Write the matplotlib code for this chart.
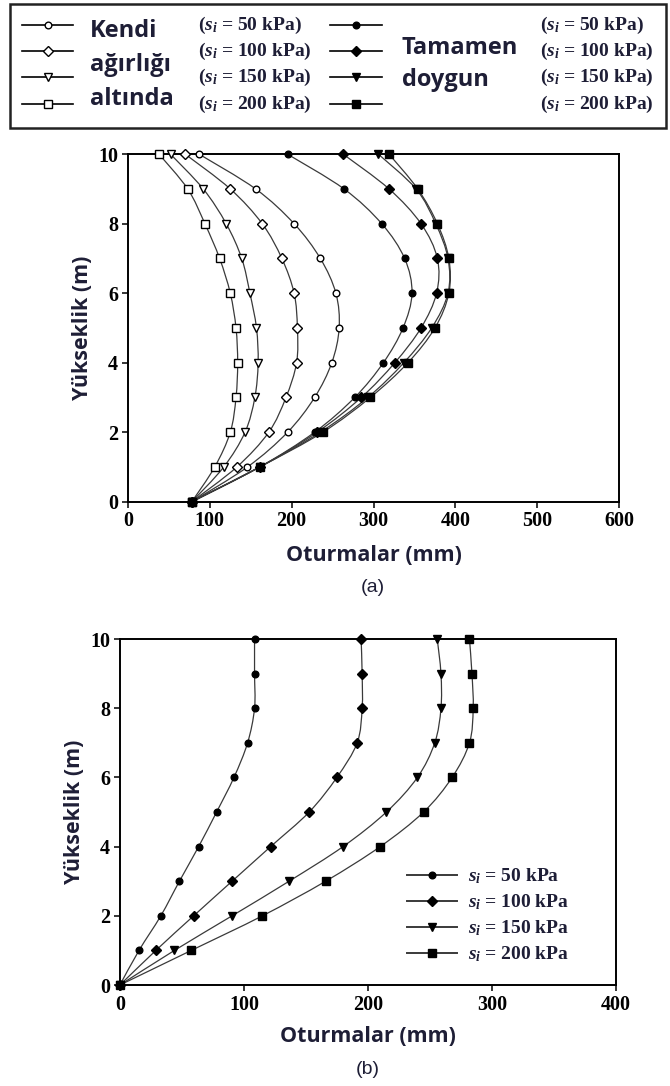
import numpy as np
import matplotlib.pyplot as plt
from matplotlib.path import Path
from matplotlib.patches import PathPatch, Rectangle

plt.rcParams['mathtext.fontset'] = 'custom'
plt.rcParams['mathtext.rm'] = 'Liberation Serif:bold'
plt.rcParams['mathtext.it'] = 'Liberation Serif:italic:bold'

# height above base (m)
heights = [0, 1, 2, 3, 4, 5, 6, 7, 8, 9, 10]

# (a) settlements under own weight (mm)
kendi_50 = [78, 146, 195, 228, 249, 258, 254, 235, 203, 156, 87]
kendi_100 = [78, 133, 172, 193, 206, 207, 203, 188, 164, 125, 70]
kendi_150 = [78, 117, 143, 155, 159, 157, 149, 139, 120, 92, 52]
kendi_200 = [78, 106, 125, 132, 134, 132, 125, 112, 94, 73, 38]

# (a) settlements fully saturated (mm)
doygun_50 = [78, 161, 228, 277, 312, 336, 347, 338, 310, 264, 195]
doygun_100 = [78, 161, 231, 285, 326, 358, 377, 378, 358, 319, 263]
doygun_150 = [78, 161, 235, 293, 337, 371, 391, 391, 376, 352, 306]
doygun_200 = [78, 161, 238, 296, 342, 375, 392, 392, 378, 354, 319]

# (b) settlements (mm)
b_50 = [0, 15.4, 33, 48, 63.5, 78, 92, 103, 108.6, 108.6, 108.6]
b_100 = [0, 29, 59.5, 90.5, 121.6, 152.7, 175, 191.4, 195.4, 195.4, 194.6]
b_150 = [0, 44, 90.5, 136.5, 180, 215, 240, 254, 259, 259, 256]
b_200 = [0, 57.6, 115, 166, 210, 245, 268, 282, 285, 284, 282]

stress_labels = ['50', '100', '150', '200']
markers = ['o', 'D', 'v', 's']
msizes = [4.8, 5.2, 6.0, 5.8]

LINE = '#3a3a3a'
LABEL = '#1e1e36'
SANS = 'Open Sans'
SERIF = 'Liberation Serif'


def smooth_path(x, y):
    # Catmull-Rom curve through the points, written as cubic Bezier segments
    pts = np.column_stack([x, y]).astype(float)
    n = len(pts)
    verts = [pts[0]]
    codes = [Path.MOVETO]
    for i in range(n - 1):
        p0 = pts[max(i - 1, 0)]
        p1 = pts[i]
        p2 = pts[i + 1]
        p3 = pts[min(i + 2, n - 1)]
        verts += [p1 + (p2 - p0) / 6, p2 - (p3 - p1) / 6, p2]
        codes += [Path.CURVE4] * 3
    return Path(verts, codes)


def draw_curve(ax, x, y, marker, ms, filled):
    ax.add_patch(PathPatch(smooth_path(x, y), fill=False, ec=LINE, lw=0.9,
                           clip_on=False, zorder=2))
    ax.plot(x, y, linestyle='none', marker=marker, ms=ms, mec='black',
            mew=1.0, mfc='black' if filled else 'white', clip_on=False, zorder=3)


def style_axes(ax, xmax, xstep, xpad):
    ax.set_xlim(0, xmax)
    ax.set_ylim(0, 10)
    ax.set_xticks(np.arange(0, xmax + 1, xstep))
    ax.set_yticks(np.arange(0, 11, 2))
    for sp in ax.spines.values():
        sp.set_linewidth(1.4)
    ax.tick_params(direction='out', length=4, width=1.1, pad=3)
    for lab in ax.get_xticklabels() + ax.get_yticklabels():
        lab.set_family(SERIF)
        lab.set_weight('bold')
        lab.set_fontsize(14.5)
    ax.set_ylabel('Yükseklik (m)', family=SANS, weight='bold', fontsize=15.5,
                  color=LABEL, labelpad=4)
    ax.set_xlabel('Oturmalar (mm)', family=SANS, weight='bold', fontsize=15.5,
                  color=LABEL, labelpad=xpad)


fig = plt.figure(figsize=(6.70, 10.86), dpi=100)

# ---- panel (a)
ax_a = fig.add_axes([0.191, 0.538, 0.733, 0.320])
for x, m, ms in zip([kendi_50, kendi_100, kendi_150, kendi_200], markers, msizes):
    draw_curve(ax_a, x, heights, m, ms, filled=False)
for x, m, ms in zip([doygun_50, doygun_100, doygun_150, doygun_200], markers, msizes):
    draw_curve(ax_a, x, heights, m, ms, filled=True)
style_axes(ax_a, 600, 100, 10)
fig.text(0.557, 1 - 588 / 1086, '(a)', ha='center', va='center',
         family='Liberation Sans', fontsize=14, color=LABEL)

# ---- panel (b)
ax_b = fig.add_axes([0.179, 0.093, 0.740, 0.3186])
for x, m, ms, lab in zip([b_50, b_100, b_150, b_200], markers, msizes, stress_labels):
    draw_curve(ax_b, x, heights, m, ms, filled=True)
    ax_b.plot([], [], color=LINE, lw=1.4, marker=m, ms=ms, mfc='black', mec='black',
              label=r'$s_i$ = ' + lab + ' kPa')
style_axes(ax_b, 400, 100, 8)
leg = ax_b.legend(loc='lower left', bbox_to_anchor=(0.578, 0.06), frameon=False,
                  borderpad=0, borderaxespad=0,
                  handlelength=2.6, handletextpad=0.55, labelspacing=0.32,
                  prop={'family': SERIF, 'weight': 'bold', 'size': 14})
for t in leg.get_texts():
    t.set_color(LABEL)
fig.text(0.549, 1 - 1069 / 1086, '(b)', ha='center', va='center',
         family='Liberation Sans', fontsize=14, color=LABEL)

# ---- legend box on top, laid out in pixel units
lax = fig.add_axes([0, 0, 1, 1])
lax.set_xlim(0, 670)
lax.set_ylim(1086, 0)
lax.axis('off')
lax.add_patch(Rectangle((10, 4), 656, 124, fill=False, ec='#222222', lw=1.8))

rows = [25, 51, 77, 104]
for y, m, ms, lab in zip(rows, markers, msizes, stress_labels):
    lax.plot([22, 73], [y, y], color='black', lw=1.2)
    lax.plot([48], [y], marker=m, ms=ms, mfc='white', mec='black', mew=1.0)
    lax.plot([330, 382], [y, y], color='black', lw=1.2)
    lax.plot([356], [y], marker=m, ms=ms, mfc='black', mec='black')
    lax.text(198, y, r'($s_i$ = ' + lab + ' kPa)', family=SERIF, weight='bold',
             fontsize=14, va='center', ha='left', color=LABEL)
    lax.text(540, y, r'($s_i$ = ' + lab + ' kPa)', family=SERIF, weight='bold',
             fontsize=14, va='center', ha='left', color=LABEL)

for y, word in zip([31, 65, 99], ['Kendi', 'ağırlığı', 'altında']):
    lax.text(90, y, word, family=SANS, weight='bold', fontsize=17, va='center',
             ha='left', color=LABEL)
for y, word in zip([48, 80], ['Tamamen', 'doygun']):
    lax.text(402, y, word, family=SANS, weight='bold', fontsize=17, va='center',
             ha='left', color=LABEL)

fig.savefig('out.png', dpi=100)
